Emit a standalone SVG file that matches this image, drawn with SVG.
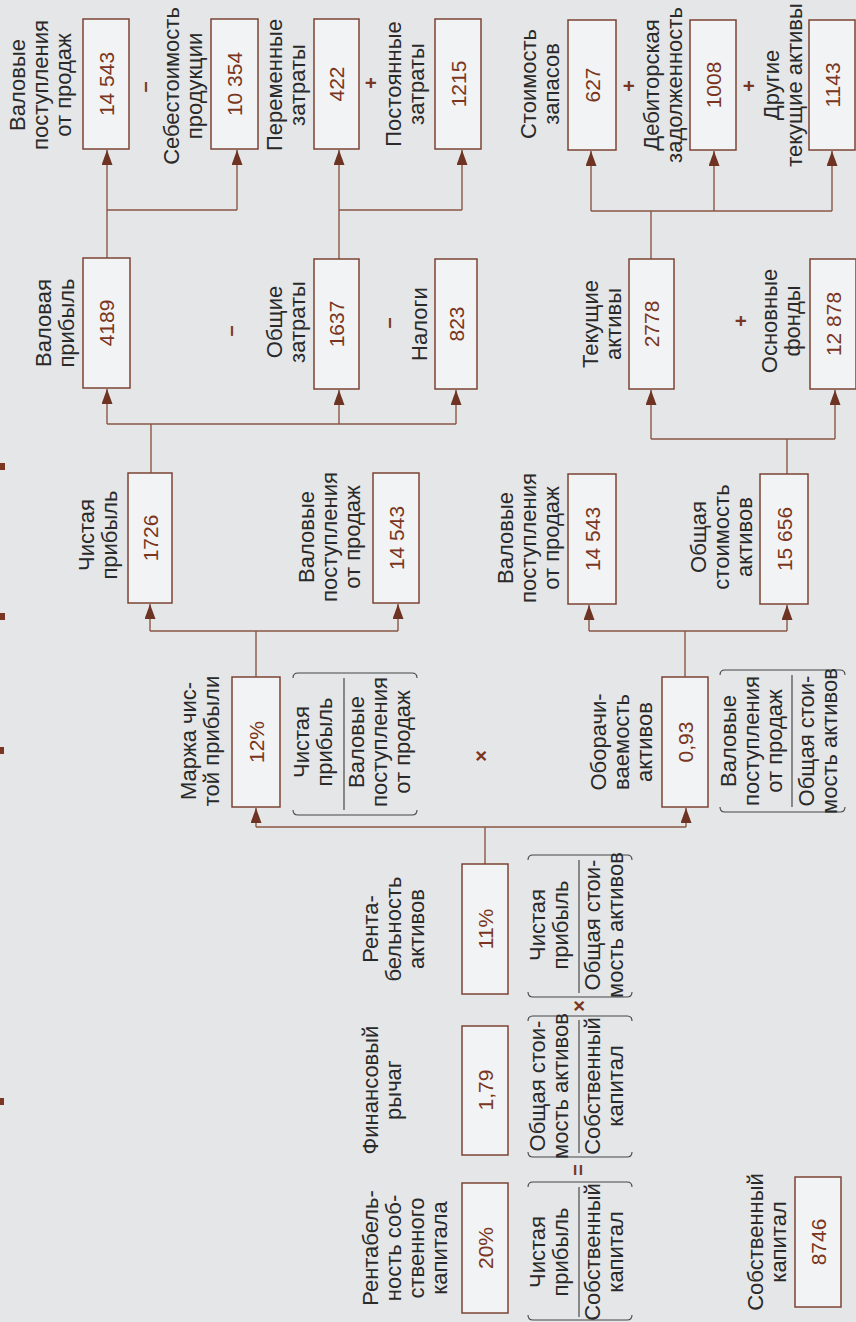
<svg xmlns="http://www.w3.org/2000/svg" width="856" height="1322" viewBox="0 0 856 1322">
  <defs>
    <style>
      .box { fill: #f2f3f5; stroke: #7c4434; stroke-width: 1.5; }
      .lbl { font-family: "Liberation Sans", Arial, sans-serif; font-size: 22px; fill: #2a2a2a; text-anchor: middle; }
      .num { font-family: "Liberation Sans", Arial, sans-serif; font-size: 21px; fill: #7a3620; text-anchor: middle; }
      .op { font-family: "Liberation Sans", Arial, sans-serif; font-size: 20px; font-weight: bold; fill: #7a3620; text-anchor: middle; }
      .wire { stroke: #8a5646; stroke-width: 1.4; fill: none; }
      .arrow { stroke: #8a5646; stroke-width: 1.4; fill: none; marker-end: url(#head); }
      .bar { stroke: #555; stroke-width: 1.3; }
      .brace { stroke: #444; stroke-width: 1.1; fill: none; }
      .tick { fill: #7a3620; }
    </style>
    <marker id="head" viewBox="0 0 15 11" refX="15" refY="5.5" markerWidth="15" markerHeight="11" markerUnits="userSpaceOnUse" orient="auto">
      <path d="M0,0 L15,5.5 L0,11 Z" fill="#6e3322"/>
    </marker>
  </defs>

  <rect width="856" height="1322" fill="#e5e6e8"/>

  <!-- trim ticks on the left margin -->
  <g id="ticks">
    <rect class="tick" x="0" y="463" width="5" height="7"/>
    <rect class="tick" x="0" y="613" width="5" height="7"/>
    <rect class="tick" x="0" y="747" width="4" height="7"/>
    <rect class="tick" x="0" y="1098" width="4" height="7"/>
  </g>

  <!-- connectors -->
  <g id="connectors">
    <!-- gross revenue / cost of goods -->
    <line class="wire" x1="107" y1="210" x2="237" y2="210"/>
    <line class="arrow" x1="107" y1="210" x2="107" y2="150"/>
    <line class="arrow" x1="237" y1="210" x2="237" y2="150"/>
    <line class="wire" x1="107" y1="210" x2="107" y2="258"/>
    <!-- variable / fixed costs -->
    <line class="wire" x1="339" y1="210" x2="462" y2="210"/>
    <line class="arrow" x1="339" y1="210" x2="339" y2="150"/>
    <line class="arrow" x1="462" y1="210" x2="462" y2="150"/>
    <line class="wire" x1="339" y1="210" x2="339" y2="259"/>
    <!-- current assets parts -->
    <line class="wire" x1="591" y1="211" x2="832" y2="211"/>
    <line class="arrow" x1="591" y1="211" x2="591" y2="151"/>
    <line class="arrow" x1="714" y1="211" x2="714" y2="151"/>
    <line class="arrow" x1="832" y1="211" x2="832" y2="151"/>
    <line class="wire" x1="651" y1="211" x2="651" y2="259"/>
    <!-- net profit parts -->
    <line class="wire" x1="107" y1="424" x2="456" y2="424"/>
    <line class="arrow" x1="107" y1="424" x2="107" y2="389"/>
    <line class="arrow" x1="339" y1="424" x2="339" y2="390"/>
    <line class="arrow" x1="456" y1="424" x2="456" y2="390"/>
    <line class="wire" x1="151" y1="424" x2="151" y2="473"/>
    <!-- total assets parts -->
    <line class="wire" x1="651" y1="439" x2="835" y2="439"/>
    <line class="arrow" x1="651" y1="439" x2="651" y2="390"/>
    <line class="arrow" x1="835" y1="439" x2="835" y2="390"/>
    <line class="wire" x1="787" y1="439" x2="787" y2="474"/>
    <!-- margin parts -->
    <line class="wire" x1="150" y1="631" x2="398" y2="631"/>
    <line class="arrow" x1="150" y1="631" x2="150" y2="604"/>
    <line class="arrow" x1="398" y1="631" x2="398" y2="604"/>
    <line class="wire" x1="256" y1="631" x2="256" y2="677"/>
    <!-- turnover parts -->
    <line class="wire" x1="589" y1="631" x2="787" y2="631"/>
    <line class="arrow" x1="589" y1="631" x2="589" y2="605"/>
    <line class="arrow" x1="787" y1="631" x2="787" y2="605"/>
    <line class="wire" x1="685" y1="631" x2="685" y2="677"/>
    <!-- return on assets parts -->
    <line class="wire" x1="256" y1="827" x2="686" y2="827"/>
    <line class="arrow" x1="256" y1="827" x2="256" y2="808"/>
    <line class="arrow" x1="686" y1="827" x2="686" y2="808"/>
    <line class="wire" x1="485" y1="827" x2="485" y2="864"/>
  </g>

  <!-- top row -->
  <g id="gross-revenue-top">
    <text class="lbl" transform="translate(25,85) rotate(-90)"><tspan x="0" y="0">Валовые</tspan><tspan x="0" y="23">поступления</tspan><tspan x="0" y="46">от продаж</tspan></text>
    <rect class="box" x="83" y="19" width="46" height="130"/>
    <text class="num" transform="translate(113.5,84) rotate(-90)">14 543</text>
  </g>
  <text class="op" transform="translate(151,87) rotate(-90)">–</text>
  <g id="cost-of-goods">
    <text class="lbl" transform="translate(179,86) rotate(-90)"><tspan x="0" y="0">Себестоимость</tspan><tspan x="0" y="23">продукции</tspan></text>
    <rect class="box" x="211" y="19" width="47" height="130"/>
    <text class="num" transform="translate(242,84) rotate(-90)">10 354</text>
  </g>
  <g id="variable-costs">
    <text class="lbl" transform="translate(282,85) rotate(-90)"><tspan x="0" y="0">Переменные</tspan><tspan x="0" y="23">затраты</tspan></text>
    <rect class="box" x="314" y="19" width="45" height="130"/>
    <text class="num" transform="translate(344,84) rotate(-90)">422</text>
  </g>
  <text class="op" transform="translate(378,83) rotate(-90)">+</text>
  <g id="fixed-costs">
    <text class="lbl" transform="translate(401,84) rotate(-90)"><tspan x="0" y="0">Постоянные</tspan><tspan x="0" y="23">затраты</tspan></text>
    <rect class="box" x="435" y="19" width="46" height="130"/>
    <text class="num" transform="translate(465.5,84) rotate(-90)">1215</text>
  </g>
  <g id="inventory">
    <text class="lbl" transform="translate(536,84) rotate(-90)"><tspan x="0" y="0">Стоимость</tspan><tspan x="0" y="23">запасов</tspan></text>
    <rect class="box" x="568" y="20" width="48" height="130"/>
    <text class="num" transform="translate(599.5,85) rotate(-90)">627</text>
  </g>
  <text class="op" transform="translate(636,86) rotate(-90)">+</text>
  <g id="receivables">
    <text class="lbl" transform="translate(659,85) rotate(-90)"><tspan x="0" y="0">Дебиторская</tspan><tspan x="0" y="23">задолженность</tspan></text>
    <rect class="box" x="690" y="20" width="46" height="130"/>
    <text class="num" transform="translate(720.5,85) rotate(-90)">1008</text>
  </g>
  <text class="op" transform="translate(756,86) rotate(-90)">+</text>
  <g id="other-current-assets">
    <text class="lbl" transform="translate(779,85) rotate(-90)"><tspan x="0" y="0">Другие</tspan><tspan x="0" y="23">текущие активы</tspan></text>
    <rect class="box" x="809" y="20" width="46" height="130"/>
    <text class="num" transform="translate(839.5,85) rotate(-90)">1143</text>
  </g>

  <!-- second row -->
  <g id="gross-profit">
    <text class="lbl" transform="translate(51,323) rotate(-90)"><tspan x="0" y="0">Валовая</tspan><tspan x="0" y="23">прибыль</tspan></text>
    <rect class="box" x="83" y="258" width="47" height="130"/>
    <text class="num" transform="translate(114,323) rotate(-90)">4189</text>
  </g>
  <text class="op" transform="translate(237,331) rotate(-90)">–</text>
  <g id="total-costs">
    <text class="lbl" transform="translate(282,322) rotate(-90)"><tspan x="0" y="0">Общие</tspan><tspan x="0" y="23">затраты</tspan></text>
    <rect class="box" x="314" y="259" width="45" height="130"/>
    <text class="num" transform="translate(344,324) rotate(-90)">1637</text>
  </g>
  <text class="op" transform="translate(395,323) rotate(-90)">–</text>
  <g id="taxes">
    <text class="lbl" transform="translate(427,324) rotate(-90)">Налоги</text>
    <rect class="box" x="435" y="259" width="42" height="130"/>
    <text class="num" transform="translate(463.5,324) rotate(-90)">823</text>
  </g>
  <g id="current-assets">
    <text class="lbl" transform="translate(598,324) rotate(-90)"><tspan x="0" y="0">Текущие</tspan><tspan x="0" y="23">активы</tspan></text>
    <rect class="box" x="629" y="259" width="45" height="130"/>
    <text class="num" transform="translate(659,324) rotate(-90)">2778</text>
  </g>
  <text class="op" transform="translate(748,321) rotate(-90)">+</text>
  <g id="fixed-assets">
    <text class="lbl" transform="translate(777,321) rotate(-90)"><tspan x="0" y="0">Основные</tspan><tspan x="0" y="23">фонды</tspan></text>
    <rect class="box" x="810" y="259" width="46" height="130"/>
    <text class="num" transform="translate(840.5,324) rotate(-90)">12 878</text>
  </g>

  <!-- third row -->
  <g id="net-profit">
    <text class="lbl" transform="translate(94,535) rotate(-90)"><tspan x="0" y="0">Чистая</tspan><tspan x="0" y="23">прибыль</tspan></text>
    <rect class="box" x="128" y="473" width="44" height="130"/>
    <text class="num" transform="translate(157.5,538) rotate(-90)">1726</text>
  </g>
  <g id="gross-revenue-margin">
    <text class="lbl" transform="translate(314,537) rotate(-90)"><tspan x="0" y="0">Валовые</tspan><tspan x="0" y="23">поступления</tspan><tspan x="0" y="46">от продаж</tspan></text>
    <rect class="box" x="373" y="473" width="46" height="130"/>
    <text class="num" transform="translate(403.5,538) rotate(-90)">14 543</text>
  </g>
  <g id="gross-revenue-turnover">
    <text class="lbl" transform="translate(513,538) rotate(-90)"><tspan x="0" y="0">Валовые</tspan><tspan x="0" y="23">поступления</tspan><tspan x="0" y="46">от продаж</tspan></text>
    <rect class="box" x="568" y="474" width="48" height="130"/>
    <text class="num" transform="translate(599.5,539) rotate(-90)">14 543</text>
  </g>
  <g id="total-assets">
    <text class="lbl" transform="translate(706,537) rotate(-90)"><tspan x="0" y="0">Общая</tspan><tspan x="0" y="23">стоимость</tspan><tspan x="0" y="46">активов</tspan></text>
    <rect class="box" x="760" y="474" width="48" height="130"/>
    <text class="num" transform="translate(791.5,539) rotate(-90)">15 656</text>
  </g>

  <!-- fourth row -->
  <g id="net-margin">
    <text class="lbl" transform="translate(196,741) rotate(-90)"><tspan x="0" y="0">Маржа чис-</tspan><tspan x="0" y="23">той прибыли</tspan></text>
    <rect class="box" x="232" y="677" width="48" height="130"/>
    <text class="num" transform="translate(263.5,742) rotate(-90)">12%</text>
    <path class="brace" d="M293,678 Q293,673 298,673 L412,673 Q417,673 417,678"/>
    <path class="brace" d="M293,810 Q293,815 298,815 L412,815 Q417,815 417,810"/>
    <text class="lbl" transform="translate(309,742) rotate(-90)"><tspan x="0" y="0">Чистая</tspan><tspan x="0" y="23">прибыль</tspan></text>
    <line class="bar" x1="344" y1="678" x2="344" y2="810"/>
    <text class="lbl" transform="translate(364,742) rotate(-90)"><tspan x="0" y="0">Валовые</tspan><tspan x="0" y="23">поступления</tspan><tspan x="0" y="46">от продаж</tspan></text>
  </g>
  <text class="op" transform="translate(488,756) rotate(-90)">×</text>
  <g id="asset-turnover">
    <text class="lbl" transform="translate(606,742) rotate(-90)"><tspan x="0" y="0">Оборачи-</tspan><tspan x="0" y="23">ваемость</tspan><tspan x="0" y="46">активов</tspan></text>
    <rect class="box" x="662" y="677" width="46" height="130"/>
    <text class="num" transform="translate(692.5,742) rotate(-90)">0,93</text>
    <path class="brace" d="M720,675 Q720,670 725,670 L840,670 Q845,670 845,675"/>
    <path class="brace" d="M720,807 Q720,812 725,812 L840,812 Q845,812 845,807"/>
    <text class="lbl" transform="translate(736,741) rotate(-90)"><tspan x="0" y="0">Валовые</tspan><tspan x="0" y="23">поступления</tspan><tspan x="0" y="46">от продаж</tspan></text>
    <line class="bar" x1="792" y1="675" x2="792" y2="807"/>
    <text class="lbl" transform="translate(814,741) rotate(-90)"><tspan x="0" y="0">Общая стои-</tspan><tspan x="0" y="23">мость активов</tspan></text>
  </g>

  <!-- fifth row -->
  <g id="return-on-assets">
    <text class="lbl" transform="translate(378,929) rotate(-90)"><tspan x="0" y="0">Рента-</tspan><tspan x="0" y="23">бельность</tspan><tspan x="0" y="46">активов</tspan></text>
    <rect class="box" x="462" y="864" width="46" height="130"/>
    <text class="num" transform="translate(492.5,929) rotate(-90)">11%</text>
    <path class="brace" d="M528,860 Q528,855 533,855 L627,855 Q632,855 632,860"/>
    <path class="brace" d="M528,992 Q528,997 533,997 L627,997 Q632,997 632,992"/>
    <text class="lbl" transform="translate(545,925) rotate(-90)"><tspan x="0" y="0">Чистая</tspan><tspan x="0" y="23">прибыль</tspan></text>
    <line class="bar" x1="579" y1="860" x2="579" y2="993"/>
    <text class="lbl" transform="translate(600,925) rotate(-90)"><tspan x="0" y="0">Общая стои-</tspan><tspan x="0" y="23">мость активов</tspan></text>
  </g>
  <text class="op" transform="translate(586,1006) rotate(-90)">×</text>
  <g id="financial-leverage">
    <text class="lbl" transform="translate(378,1090) rotate(-90)"><tspan x="0" y="0">Финансовый</tspan><tspan x="0" y="23">рычаг</tspan></text>
    <rect class="box" x="462" y="1026" width="46" height="129"/>
    <text class="num" transform="translate(492.5,1090) rotate(-90)">1,79</text>
    <path class="brace" d="M528,1021 Q528,1016 533,1016 L627,1016 Q632,1016 632,1021"/>
    <path class="brace" d="M528,1152 Q528,1157 533,1157 L627,1157 Q632,1157 632,1152"/>
    <text class="lbl" transform="translate(545,1086) rotate(-90)"><tspan x="0" y="0">Общая стои-</tspan><tspan x="0" y="23">мость активов</tspan></text>
    <line class="bar" x1="579" y1="1020" x2="579" y2="1153"/>
    <text class="lbl" transform="translate(600,1086) rotate(-90)"><tspan x="0" y="0">Собственный</tspan><tspan x="0" y="23">капитал</tspan></text>
  </g>
  <text class="op" transform="translate(585,1170) rotate(-90)">=</text>
  <g id="return-on-equity">
    <text class="lbl" transform="translate(378,1248) rotate(-90)"><tspan x="0" y="0">Рентабель-</tspan><tspan x="0" y="23">ность соб-</tspan><tspan x="0" y="46">ственного</tspan><tspan x="0" y="69">капитала</tspan></text>
    <rect class="box" x="462" y="1183" width="46" height="130"/>
    <text class="num" transform="translate(492.5,1248) rotate(-90)">20%</text>
    <path class="brace" d="M528,1187 Q528,1182 533,1182 L627,1182 Q632,1182 632,1187"/>
    <path class="brace" d="M528,1315 Q528,1320 533,1320 L627,1320 Q632,1320 632,1315"/>
    <text class="lbl" transform="translate(545,1252) rotate(-90)"><tspan x="0" y="0">Чистая</tspan><tspan x="0" y="23">прибыль</tspan></text>
    <line class="bar" x1="579" y1="1187" x2="579" y2="1317"/>
    <text class="lbl" transform="translate(600,1252) rotate(-90)"><tspan x="0" y="0">Собственный</tspan><tspan x="0" y="23">капитал</tspan></text>
  </g>
  <g id="equity">
    <text class="lbl" transform="translate(763,1242) rotate(-90)"><tspan x="0" y="0">Собственный</tspan><tspan x="0" y="23">капитал</tspan></text>
    <rect class="box" x="795" y="1177" width="46" height="130"/>
    <text class="num" transform="translate(825.5,1242) rotate(-90)">8746</text>
  </g>
</svg>
